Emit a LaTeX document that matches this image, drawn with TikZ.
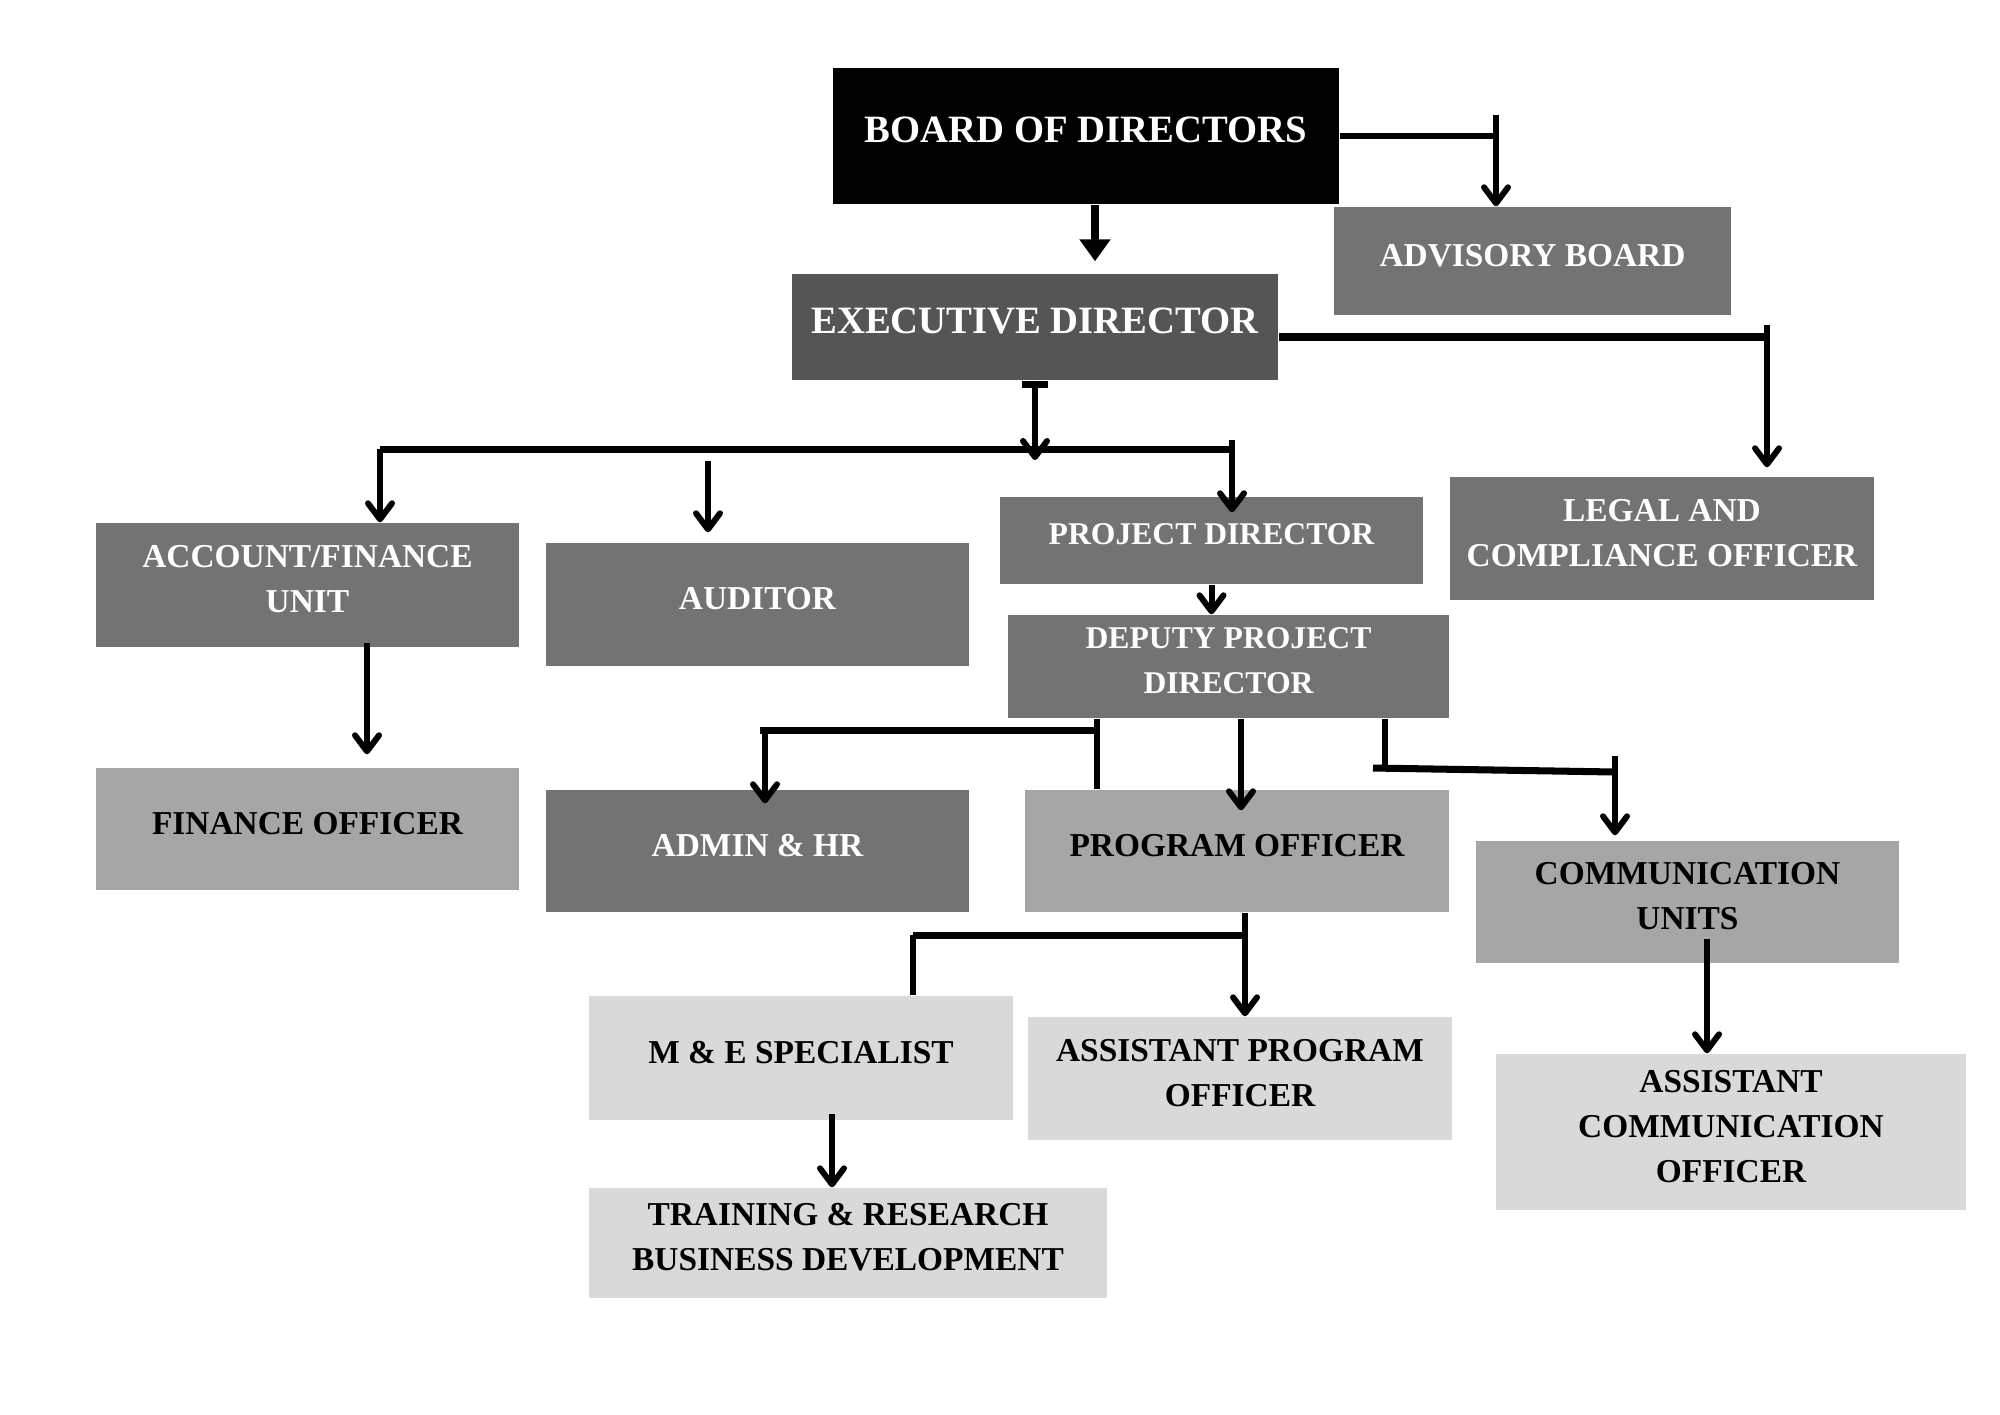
\documentclass[tikz,border=0pt]{standalone}
\usepackage{fontspec}
\setmainfont{Liberation Serif}
\usetikzlibrary{arrows.meta}
\definecolor{gA}{HTML}{555555}
\definecolor{gB}{HTML}{737373}
\definecolor{gC}{HTML}{A6A6A6}
\definecolor{gD}{HTML}{D9D9D9}
\tikzset{
  box/.style={rectangle, inner sep=0pt, align=center, text depth=0.12cm,
    font=\fontsize{9.5}{12.8}\selectfont\bfseries},
  bigtxt/.style={font=\fontsize{11}{13}\selectfont\bfseries},
  midtxt/.style={font=\fontsize{9}{12.8}\selectfont\bfseries},
  blk/.style={box, fill=black, text=white},
  dkA/.style={box, fill=gA, text=white},
  dkB/.style={box, fill=gB, text=white},
  ltC/.style={box, fill=gC, text=black},
  ltD/.style={box, fill=gD, text=black},
  ln/.style={line width=1.7pt},
  barln/.style={line width=2pt},
  arr/.style={ln, -{Straight Barb[length=0.16cm,width=0.24cm,round]}},
  tri/.style={line width=2.1pt, -{Triangle[length=0.22cm,width=0.3cm]}}
}
\begin{document}
\begin{tikzpicture}[x=0.01cm,y=-0.01cm]
\fill[white] (0,0) rectangle (2000,1414);
\useasboundingbox (0,0) rectangle (2000,1414);

% boxes
\node[blk, bigtxt, minimum width=5.06cm, minimum height=1.36cm] (board) at (1086,136) {BOARD OF DIRECTORS};
\node[dkB, minimum width=3.97cm, minimum height=1.08cm] (adv) at (1532.5,261) {ADVISORY BOARD};
\node[dkA, bigtxt, minimum width=4.86cm, minimum height=1.06cm] (exec) at (1035,327) {EXECUTIVE DIRECTOR};
\node[dkB, minimum width=4.23cm, minimum height=1.24cm] (acc) at (307.5,585) {ACCOUNT/FINANCE\\UNIT};
\node[dkB, minimum width=4.23cm, minimum height=1.23cm] (aud) at (757.5,604.5) {AUDITOR};
\node[dkB, midtxt, minimum width=4.23cm, minimum height=0.87cm] (proj) at (1211.5,540.5) {PROJECT DIRECTOR};
\node[dkB, minimum width=4.24cm, minimum height=1.23cm] (legal) at (1662,538.5) {LEGAL AND\\COMPLIANCE OFFICER};
\node[dkB, midtxt, minimum width=4.41cm, minimum height=1.03cm] (dep) at (1228.5,666.5) {DEPUTY PROJECT\\DIRECTOR};
\node[ltC, minimum width=4.23cm, minimum height=1.22cm] (fin) at (307.5,829) {FINANCE OFFICER};
\node[dkB, minimum width=4.23cm, minimum height=1.22cm] (admin) at (757.5,851) {ADMIN \& HR};
\node[ltC, minimum width=4.24cm, minimum height=1.22cm] (prog) at (1237,851) {PROGRAM OFFICER};
\node[ltC, minimum width=4.23cm, minimum height=1.22cm] (comm) at (1687.5,902) {COMMUNICATION\\UNITS};
\node[ltD, minimum width=4.24cm, minimum height=1.24cm] (me) at (801,1058) {M \& E SPECIALIST};
\node[ltD, minimum width=4.24cm, minimum height=1.23cm] (apo) at (1240,1078.5) {ASSISTANT PROGRAM\\OFFICER};
\node[ltD, minimum width=4.70cm, minimum height=1.56cm] (aco) at (1731,1132) {ASSISTANT\\COMMUNICATION\\OFFICER};
\node[ltD, minimum width=5.18cm, minimum height=1.10cm] (train) at (848,1243) {TRAINING \& RESEARCH\\BUSINESS DEVELOPMENT};

% junction coordinates
\coordinate (jAdv) at (1496,115);
\coordinate (jBoard) at (1095,0);
\coordinate (jLeg) at (1767,325);
\coordinate (jLegH) at (1767,337);
\coordinate (jEx) at (1035,460);
\coordinate (busL) at (380,449);
\coordinate (busR) at (1232,449);
\coordinate (busRt) at (1232,440);
\coordinate (jAud) at (708,461);
\coordinate (jFin) at (367,643);
\coordinate (jDepA) at (1097,0);
\coordinate (jAdmH) at (760,730);
\coordinate (jAdm) at (765,730);
\coordinate (jProg) at (1241,0);
\coordinate (jCom) at (1385,0);
\coordinate (jComL) at (1373,768);
\coordinate (jComR) at (1615,772);
\coordinate (jComT) at (1615,756);
\coordinate (jPo) at (1245,0);
\coordinate (jPoH) at (1245,935);
\coordinate (jMe) at (913,935);
\coordinate (jAco) at (1707,939);
\coordinate (jTr) at (832,1114);

% board -> advisory
\draw[ln] (board.east) -- (jAdv |- board.east);
\draw[arr] (jAdv) -- (jAdv |- adv.north);
% board -> executive
\draw[tri] (board.south -| jBoard) -- ([yshift=0.12cm]exec.north -| jBoard);
% executive -> legal
\draw[barln] (exec.east |- jLegH) -- (jLegH);
\draw[arr, shorten >=0.09cm] (jLeg) -- (jLeg |- legal.north);
% executive -> bus
\draw[barln] ([xshift=-0.13cm,yshift=-0.04cm]exec.south) -- ([xshift=0.13cm,yshift=-0.04cm]exec.south);
\draw[arr] (exec.south) -- (jEx);
\draw[barln] (busL) -- (busR);
\draw[arr] (busL) -- (busL |- acc.north);
\draw[arr] (busRt) -- (busRt |- proj.north) -- ++(0,16);
\draw[arr, shorten >=0.1cm] (jAud) -- (jAud |- aud.north);
% project -> deputy
\draw[arr] (proj.south) -- (proj.south |- dep.north);
% account -> finance officer
\draw[arr, shorten >=0.13cm] (jFin) -- (jFin |- fin.north);
% deputy -> admin / program
\draw[ln] (dep.south -| jDepA) -- (prog.north -| jDepA);
\draw[barln] (jAdmH) -- (jAdmH -| jDepA);
\draw[arr] (jAdm) -- (jAdm |- admin.north) -- ++(0,14);
\draw[arr] (dep.south -| jProg) -- (prog.north -| jProg) -- ++(0,21);
% deputy -> communication
\draw[ln] (dep.south -| jCom) -- (jComL -| jCom);
\draw[barln] (jComL) -- (jComR);
\draw[arr, shorten >=0.05cm] (jComT) -- (jComT |- comm.north);
% program -> M&E / assistant program officer
\draw[arr] (prog.south -| jPo) -- (apo.north -| jPo);
\draw[barln] (jMe) -- (jPoH);
\draw[ln] (jMe) -- (jMe |- me.north);
% communication -> assistant communication officer
\draw[arr] (jAco) -- (jAco |- aco.north);
% M&E -> training
\draw[arr] (jTr) -- (jTr |- train.north);
\end{tikzpicture}
\end{document}
